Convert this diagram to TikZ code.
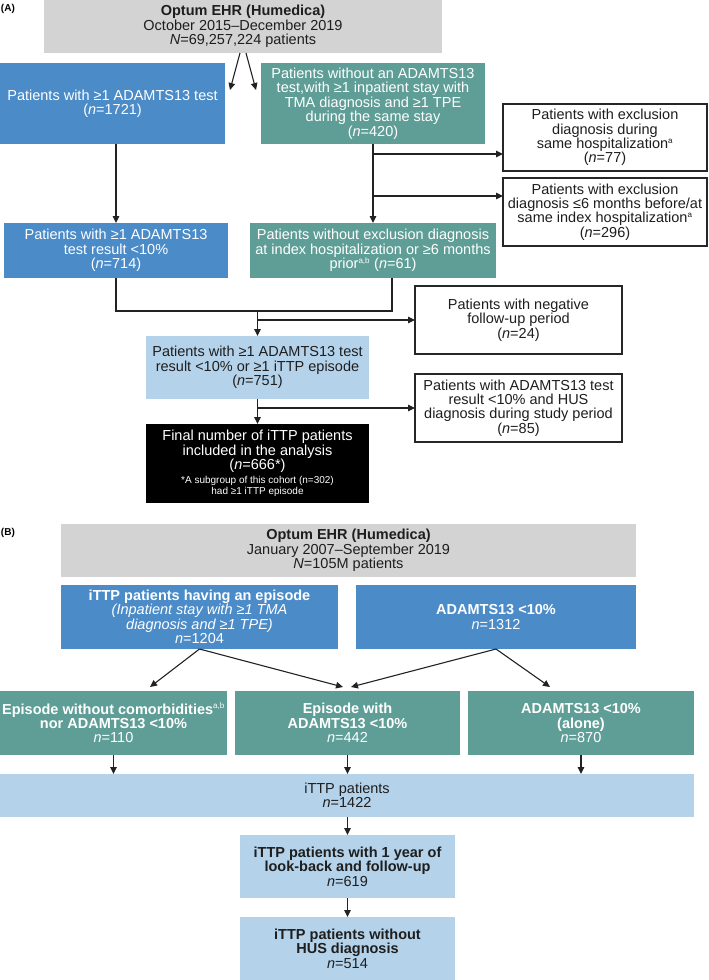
\documentclass[tikz,border=0pt]{standalone}
\usepackage{fontspec}
\setmainfont{Liberation Sans}
\usetikzlibrary{arrows.meta,calc}
\definecolor{cgray}{HTML}{D3D3D3}
\definecolor{cblue}{HTML}{4A8BC8}
\definecolor{cteal}{HTML}{5F9E96}
\definecolor{clight}{HTML}{B4D3EB}
\definecolor{cline}{HTML}{222222}
\definecolor{ctext}{HTML}{1E1E1E}
\newcommand{\mysup}[1]{\textsuperscript{\fontsize{8}{8}\selectfont #1}}
\newcommand{\fnt}{\fontsize{10}{12}\selectfont}
\begin{document}
\begin{tikzpicture}[x=1pt,y=-1pt,
  every node/.style={inner sep=0pt,outer sep=0pt,align=center,font=\fontsize{14.5}{14.4}\selectfont},
  bx/.style 2 args={minimum width=#1,minimum height=#2},
  gry/.style={fill=cgray,text=ctext},
  blu/.style={fill=cblue,text=white},
  tl/.style={fill=cteal,text=white},
  lt/.style={fill=clight,text=ctext},
  wb/.style={fill=white,draw=black!85,line width=1.6pt,text=ctext},
  blk/.style={fill=black,text=white},
  ln/.style={draw=cline,line width=1.1pt},
  arr/.style={ln,-{Triangle[length=7pt,width=6.5pt]}},
  lbl/.style={anchor=west,font=\bfseries\fontsize{10}{10}\selectfont}
]
\useasboundingbox (0,0) rectangle (709,980);

% ---------------- Panel A ----------------
\node[lbl] (labA) at (1,9) {(A)};
\node[gry,bx={398}{53}] (gA) at (243,26.5) {\textbf{Optum EHR (Humedica)}\\October 2015–December 2019\\\textit{N}=69,257,224 patients};
\node[blu,bx={225}{81}] (b1) at (112.5,103.5) {Patients with ≥1 ADAMTS13 test\\(\textit{n}=1721)};
\node[tl,bx={224}{81}] (g1) at (373,103.5) {Patients without an ADAMTS13\\test,with ≥1 inpatient stay with\\TMA diagnosis and ≥1 TPE\\during the same stay\\(\textit{n}=420)};
\node[wb,bx={204}{67}] (r1) at (605,137.5) {Patients with exclusion\\diagnosis during\\same hospitalization\mysup{a}\\(\textit{n}=77)};
\node[wb,bx={204}{68}] (r2) at (605,212) {Patients with exclusion\\diagnosis ≤6 months before/at\\same index hospitalization\mysup{a}\\(\textit{n}=296)};
\node[blu,bx={224}{55}] (b2) at (116,250.5) {Patients with ≥1 ADAMTS13\\test result <10\%\\(\textit{n}=714)};
\node[tl,bx={246}{55}] (g2) at (373,250.5) {Patients without exclusion diagnosis\\at index hospitalization or ≥6 months\\prior\mysup{a,b} (\textit{n}=61)};
\node[wb,bx={207}{68}] (neg) at (518.5,320) {Patients with negative\\follow-up period\\(\textit{n}=24)};
\node[lt,bx={223}{63}] (lb) at (257.5,367.5) {Patients with ≥1 ADAMTS13 test\\result <10\% or ≥1 iTTP episode\\(\textit{n}=751)};
\node[wb,bx={207}{68}] (hus) at (518.5,408) {Patients with ADAMTS13 test\\result <10\% and HUS\\diagnosis during study period\\(\textit{n}=85)};
\node[blk,bx={223}{79}] (blk) at (257.5,463.5) {Final number of iTTP patients\\included in the analysis\\(\textit{n}=666*)\\[-1pt]{\fnt *A subgroup of this cohort (n=302)}\\[-3pt]{\fnt had ≥1 iTTP episode}};

\draw[arr] ($(gA.south)+(-3,0)$) -- ($(b1.north east)+(5,27)$);
\draw[arr] ($(gA.south)+(3,0)$) -- ($(g1.north west)+(-5,27)$);
\draw[arr] (b1.south -| b2.north) -- (b2.north);
\draw[arr] (g1.south) -- (g2.north);
\coordinate (br1) at ($(g1.south)+(0,10)$);
\coordinate (br2) at ($(g1.south)+(0,52)$);
\draw[arr] (br1) -- (br1 -| r1.west);
\draw[arr] (br2) -- (br2 -| r2.west);
\coordinate (gout) at ($(g2.south)+(19,0)$);
\coordinate (mA) at ($(lb.north)+(0,-25)$);
\draw[ln] (b2.south) |- (mA) -| (gout);
\draw[arr] (mA) -- (lb.north);
\coordinate (br3) at ($(lb.north)+(0,-16)$);
\draw[arr] (br3) -- (br3 -| neg.west);
\draw[arr] (lb.south) -- (blk.north);
\draw[arr] (lb.south |- hus.west) -- (hus.west);

% ---------------- Panel B ----------------
\node[lbl] (labB) at (1,533) {(B)};
\node[gry,bx={575}{53}] (gB) at (348.5,550.5) {\textbf{Optum EHR (Humedica)}\\January 2007–September 2019\\\textit{N}=105M patients};
\node[blu,bx={277}{64}] (bb1) at (199.5,617) {\textbf{iTTP patients having an episode}\\\textit{(Inpatient stay with ≥1 TMA}\\\textit{diagnosis and ≥1 TPE)}\\\textit{n}=1204};
\node[blu,bx={280}{64}] (bb2) at (496,617) {\textbf{ADAMTS13 <10\%}\\\textit{n}=1312};
\node[tl,bx={227}{64}] (gb1) at (113.5,723) {\textbf{Episode without comorbidities}\mysup{a,b}\\\textbf{nor ADAMTS13 <10\%}\\\textit{n}=110};
\node[tl,bx={225}{64}] (gb2) at (347.5,723) {\textbf{Episode with}\\\textbf{ADAMTS13 <10\%}\\\textit{n}=442};
\node[tl,bx={226}{64}] (gb3) at (581,723) {\textbf{ADAMTS13 <10\%}\\\textbf{(alone)}\\\textit{n}=870};
\node[lt,bx={694}{43}] (it) at (347,795.5) {iTTP patients\\\textit{n}=1422};
\node[lt,bx={215}{63}] (p619) at (347.5,866.5) {\textbf{iTTP patients with 1 year of}\\\textbf{look-back and follow-up}\\\textit{n}=619};
\node[lt,bx={215}{63}] (p514) at (347.5,948.5) {\textbf{iTTP patients without}\\\textbf{HUS diagnosis}\\\textit{n}=514};

\draw[arr] (bb1.south) -- ($(gb1.north)+(36.5,-4)$);
\draw[arr] (bb1.south) -- ($(gb2.north)+(-4.5,-4)$);
\draw[arr] (bb2.south) -- ($(gb2.north)+(3.5,-4)$);
\draw[arr] (bb2.south) -- ($(gb3.north)+(-31,-4)$);
\draw[arr] (gb1.south) -- (gb1.south |- it.north);
\draw[arr] (gb2.south) -- (gb2.south |- it.north);
\draw[arr] (gb3.south) -- (gb3.south |- it.north);
\draw[arr] (it.south -| p619.north) -- (p619.north);
\draw[arr] (p619.south) -- (p514.north);
\end{tikzpicture}
\end{document}
